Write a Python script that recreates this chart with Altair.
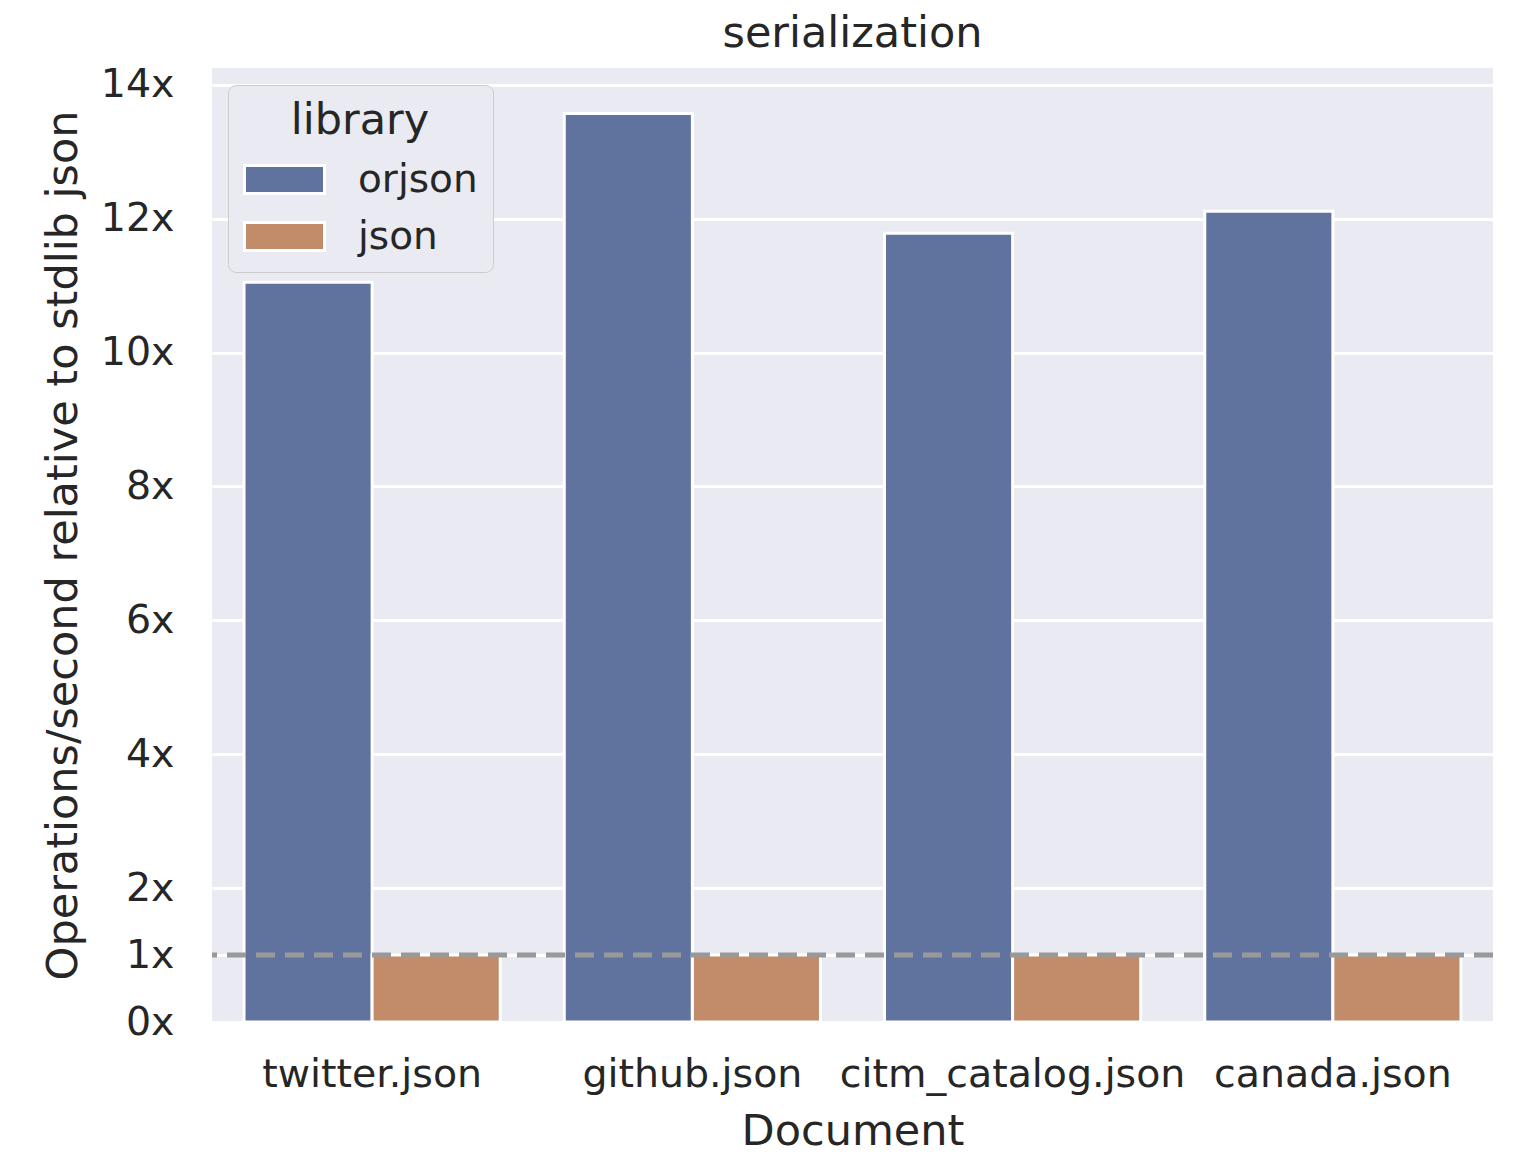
import altair as alt
import pandas as pd

documents = ["twitter.json", "github.json", "citm_catalog.json", "canada.json"]
libraries = ["orjson", "json"]
orjson_values = [11.05, 13.57, 11.78, 12.11]
json_values = [1.0, 1.0, 1.0, 1.0]
y_ticks = [0, 1, 2, 4, 6, 8, 10, 12, 14]
colors = ["#5f739e", "#c28b69"]

rows = []
for d, v in zip(documents, orjson_values):
    rows.append({"Document": d, "library": "orjson", "value": v})
for d, v in zip(documents, json_values):
    rows.append({"Document": d, "library": "json", "value": v})
df = pd.DataFrame(rows)

FONT = "DejaVu Sans"
TXT = "#262626"

symbol_path = "M-1,-0.56H2.2V0.56H-1Z"

bars = alt.Chart(df).mark_bar(stroke="white", strokeWidth=3).encode(
    x=alt.X("Document:N", sort=documents, title="Document",
            scale=alt.Scale(paddingInner=0, paddingOuter=0),
            axis=alt.Axis(labelAngle=0, labelFontSize=39.5, titleFontSize=43,
                          labelPadding=33, titlePadding=17, domain=False, ticks=False,
                          grid=False, labelColor=TXT, titleColor=TXT, labelLimit=0,
                          labelFont=FONT, titleFont=FONT, titleFontWeight="normal")),
    xOffset=alt.XOffset("library:N", sort=libraries,
                        scale=alt.Scale(paddingInner=0, paddingOuter=0.25)),
    y=alt.Y("value:Q", title="Operations/second relative to stdlib json",
            scale=alt.Scale(domain=[0, 14.25], nice=False, zero=True),
            axis=alt.Axis(values=y_ticks, labelExpr="datum.value + 'x'",
                          labelFontSize=39.5, titleFontSize=43, labelPadding=38,
                          titlePadding=15, domain=False, ticks=False,
                          gridColor="white", gridWidth=3, gridOpacity=1,
                          labelColor=TXT,
                          titleColor=TXT, labelFont=FONT, titleFont=FONT,
                          titleFontWeight="normal")),
    color=alt.Color("library:N", sort=libraries,
                    scale=alt.Scale(domain=libraries, range=colors),
                    legend=alt.Legend(orient="none", legendX=16, legendY=17,
                                      title="library", titleFontSize=43,
                                      titleFont=FONT, titleColor=TXT,
                                      titleFontWeight="normal",
                                      titleAnchor="middle", titleAlign="center",
                                      titlePadding=10,
                                      labelFontSize=39, labelFont=FONT,
                                      labelColor=TXT, labelOffset=62,
                                      symbolType=symbol_path, symbolSize=2500,
                                      symbolStrokeColor="white",
                                      symbolStrokeWidth=3, symbolOpacity=1,
                                      rowPadding=10, padding=15,
                                      fillColor="#EAEAF2", strokeColor="#CCCCCC",
                                      cornerRadius=8)),
)

rule = alt.Chart(pd.DataFrame({"y": [1.0]})).mark_rule(
    color="#999999", strokeWidth=5, strokeDash=[19, 10]
).encode(y="y:Q")

chart = alt.layer(bars, rule).properties(
    width=1281, height=954,
    background="white",
    title=alt.TitleParams("serialization", fontSize=43, font=FONT, color=TXT,
                          fontWeight="normal", offset=9),
    autosize=alt.AutoSizeParams(type="none"),
    padding={"left": 204, "top": 60, "right": 30, "bottom": 140},
).configure_view(fill="#EAEAF2", stroke=None)

chart.save("out.html", embed_options={"renderer": "svg", "actions": False})
